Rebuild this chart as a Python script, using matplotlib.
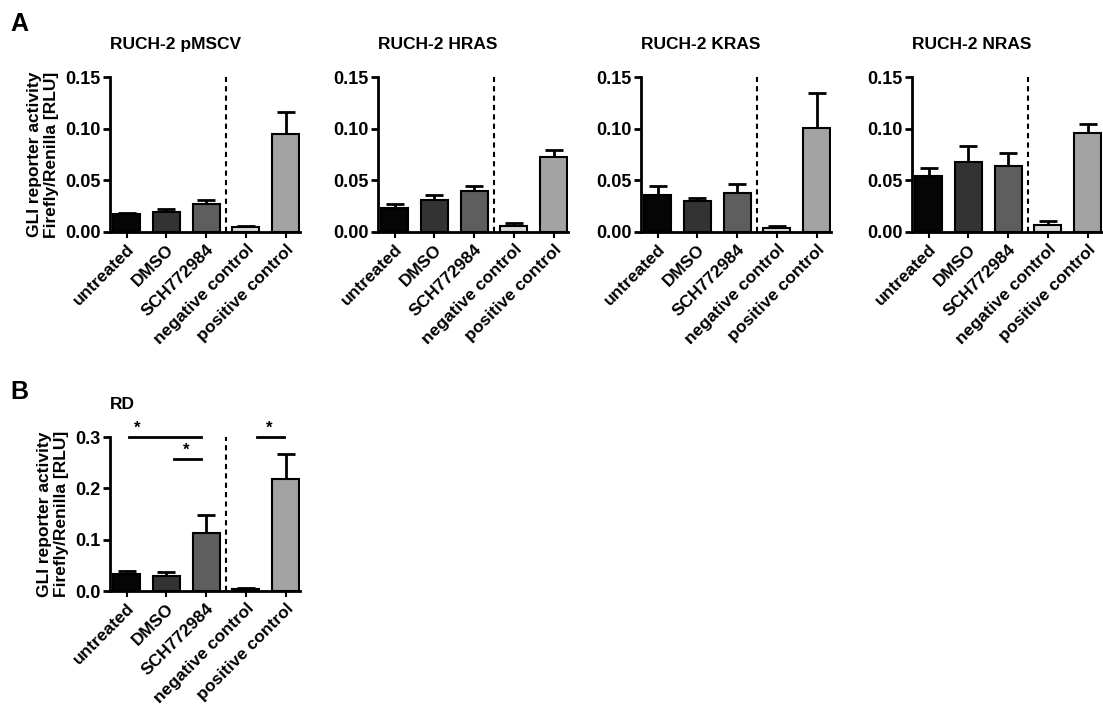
import matplotlib
matplotlib.use('Agg')
import matplotlib.pyplot as plt
import numpy as np

plt.rcParams['font.family'] = ['Liberation Sans', 'DejaVu Sans']
plt.rcParams['font.weight'] = 'bold'

# --- data ---
groups = ['untreated', 'DMSO', 'SCH772984', 'negative control', 'positive control']
colors = ['#050505', '#333333', '#5e5e5e', '#dadada', '#a3a3a3']

titles_a = ['RUCH-2 pMSCV', 'RUCH-2 HRAS', 'RUCH-2 KRAS', 'RUCH-2 NRAS']
pmscv_mean = [0.0171, 0.0196, 0.0270, 0.0045, 0.0950]
pmscv_err = [0.0016, 0.0023, 0.0042, 0.0016, 0.0209]
hras_mean = [0.0232, 0.0312, 0.0393, 0.0058, 0.0724]
hras_err = [0.0035, 0.0042, 0.0054, 0.0029, 0.0068]
kras_mean = [0.0354, 0.0296, 0.0377, 0.0039, 0.1004]
kras_err = [0.0087, 0.0029, 0.0083, 0.0016, 0.0345]
nras_mean = [0.0540, 0.0679, 0.0637, 0.0071, 0.0954]
nras_err = [0.0077, 0.0152, 0.0129, 0.0036, 0.0093]

rd_mean = [0.0328, 0.0296, 0.1124, 0.0039, 0.2178]
rd_err = [0.0064, 0.0070, 0.0360, 0.0019, 0.0488]

# significance brackets (x start, x end, y, star x)
sig_x0 = [0.07, 1.18, 3.27]
sig_x1 = [1.87, 1.88, 3.97]
sig_y = [0.300, 0.258, 0.300]
sig_star = [0.26, 1.49, 3.59]

ylab = 'GLI reporter activity\nFirefly/Renilla [RLU]'


def bar_panel(ax, mean, err, title, ymax, yticks, fmt):
    x = np.arange(len(groups))
    ax.bar(x, mean, 0.68, color=colors, edgecolor='black', linewidth=1.5, zorder=3)
    ax.errorbar(x, mean, yerr=[np.zeros(len(err)), err], fmt='none', ecolor='black',
                elinewidth=2, capsize=6.5, capthick=2, zorder=2)
    ax.axvline(2.5, color='black', linestyle=(0, (2.5, 2)), linewidth=1.5)
    ax.set_xlim(-0.42, 4.36)
    ax.set_ylim(0, ymax)
    ax.set_yticks(yticks)
    ax.set_yticklabels([fmt % v for v in yticks])
    ax.set_xticks(x)
    ax.set_xticklabels(groups, rotation=45, ha='right', rotation_mode='anchor')
    for s in ['top', 'right']:
        ax.spines[s].set_visible(False)
    for s in ['left', 'bottom']:
        ax.spines[s].set_linewidth(2)
    ax.tick_params(axis='y', direction='out', length=5, width=2, labelsize=13, pad=2)
    ax.tick_params(axis='x', direction='out', length=4, width=1.5, labelsize=12.5, pad=3)
    for t in ax.get_xticklabels() + ax.get_yticklabels():
        t.set_fontweight('bold')
    ax.set_title(title, loc='left', fontsize=12.5, fontweight='bold', pad=20)


fig = plt.figure(figsize=(11.03, 7.04), dpi=100)
fig.patch.set_facecolor('white')

W, H = 1103.0, 704.0
lefts = [110, 378, 641, 912]
means = [pmscv_mean, hras_mean, kras_mean, nras_mean]
errs = [pmscv_err, hras_err, kras_err, nras_err]

axes_a = []
for i in range(4):
    ax = fig.add_axes([lefts[i] / W, (H - 232) / H, 190 / W, 155 / H])
    bar_panel(ax, means[i], errs[i], titles_a[i], 0.15, [0, 0.05, 0.10, 0.15], '%.2f')
    axes_a.append(ax)
axes_a[0].set_ylabel(ylab, fontsize=12.5, fontweight='bold', labelpad=4)

axb = fig.add_axes([110 / W, (H - 591) / H, 190 / W, 154 / H])
bar_panel(axb, rd_mean, rd_err, 'RD', 0.3, [0, 0.1, 0.2, 0.3], '%.1f')
axb.set_ylabel(ylab, fontsize=12.5, fontweight='bold', labelpad=4)

for i in range(len(sig_y)):
    axb.plot([sig_x0[i], sig_x1[i]], [sig_y[i], sig_y[i]], color='black', linewidth=2,
             clip_on=False, zorder=4)
    axb.text(sig_star[i], sig_y[i] + 0.002, '*', ha='center', va='bottom', fontsize=12,
             fontweight='bold')

fig.text(10 / W, 1 - 31 / H, 'A', fontsize=18, fontweight='bold')
fig.text(10 / W, 1 - 399 / H, 'B', fontsize=18, fontweight='bold')

fig.savefig('out.png', dpi=100)
